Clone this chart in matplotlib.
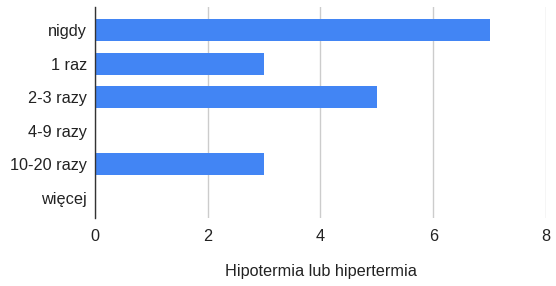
import matplotlib.pyplot as plt
import numpy as np

# data
categories = ['nigdy', '1 raz', '2-3 razy', '4-9 razy', '10-20 razy', 'więcej']
values = [7, 3, 5, 0, 3, 0]
xticks = [0, 2, 4, 6, 8]
xlabel = 'Hipotermia lub hipertermia'

plt.rcParams['font.family'] = ['Liberation Sans', 'DejaVu Sans']

fig = plt.figure(figsize=(5.56, 2.86), dpi=100)
ax = fig.add_axes([95 / 556, 1 - 218 / 286, (546 - 95) / 556, (218 - 7) / 286])

y = np.arange(len(categories))
ax.barh(y, values, height=0.66, color='#4285F4', zorder=3)

ax.set_xlim(0, 8)
ax.set_ylim(len(categories) - 0.4, -0.7)
ax.set_xticks(xticks)
ax.set_yticks(y)
ax.set_yticklabels(categories)
ax.tick_params(length=0, labelsize=11.7, colors='#222222')
ax.tick_params(axis='x', pad=8)
ax.tick_params(axis='y', pad=6)

ax.grid(axis='x', color='#cccccc', linewidth=1, zorder=0)
for s in ['top', 'right', 'bottom']:
    ax.spines[s].set_visible(False)
ax.spines['left'].set_color('#333333')
ax.spines['left'].set_linewidth(1)
ax.spines['left'].set_zorder(4)

ax.set_xlabel(xlabel, fontsize=11.7, color='#222222', labelpad=14)

fig.savefig('out.png', dpi=100)
